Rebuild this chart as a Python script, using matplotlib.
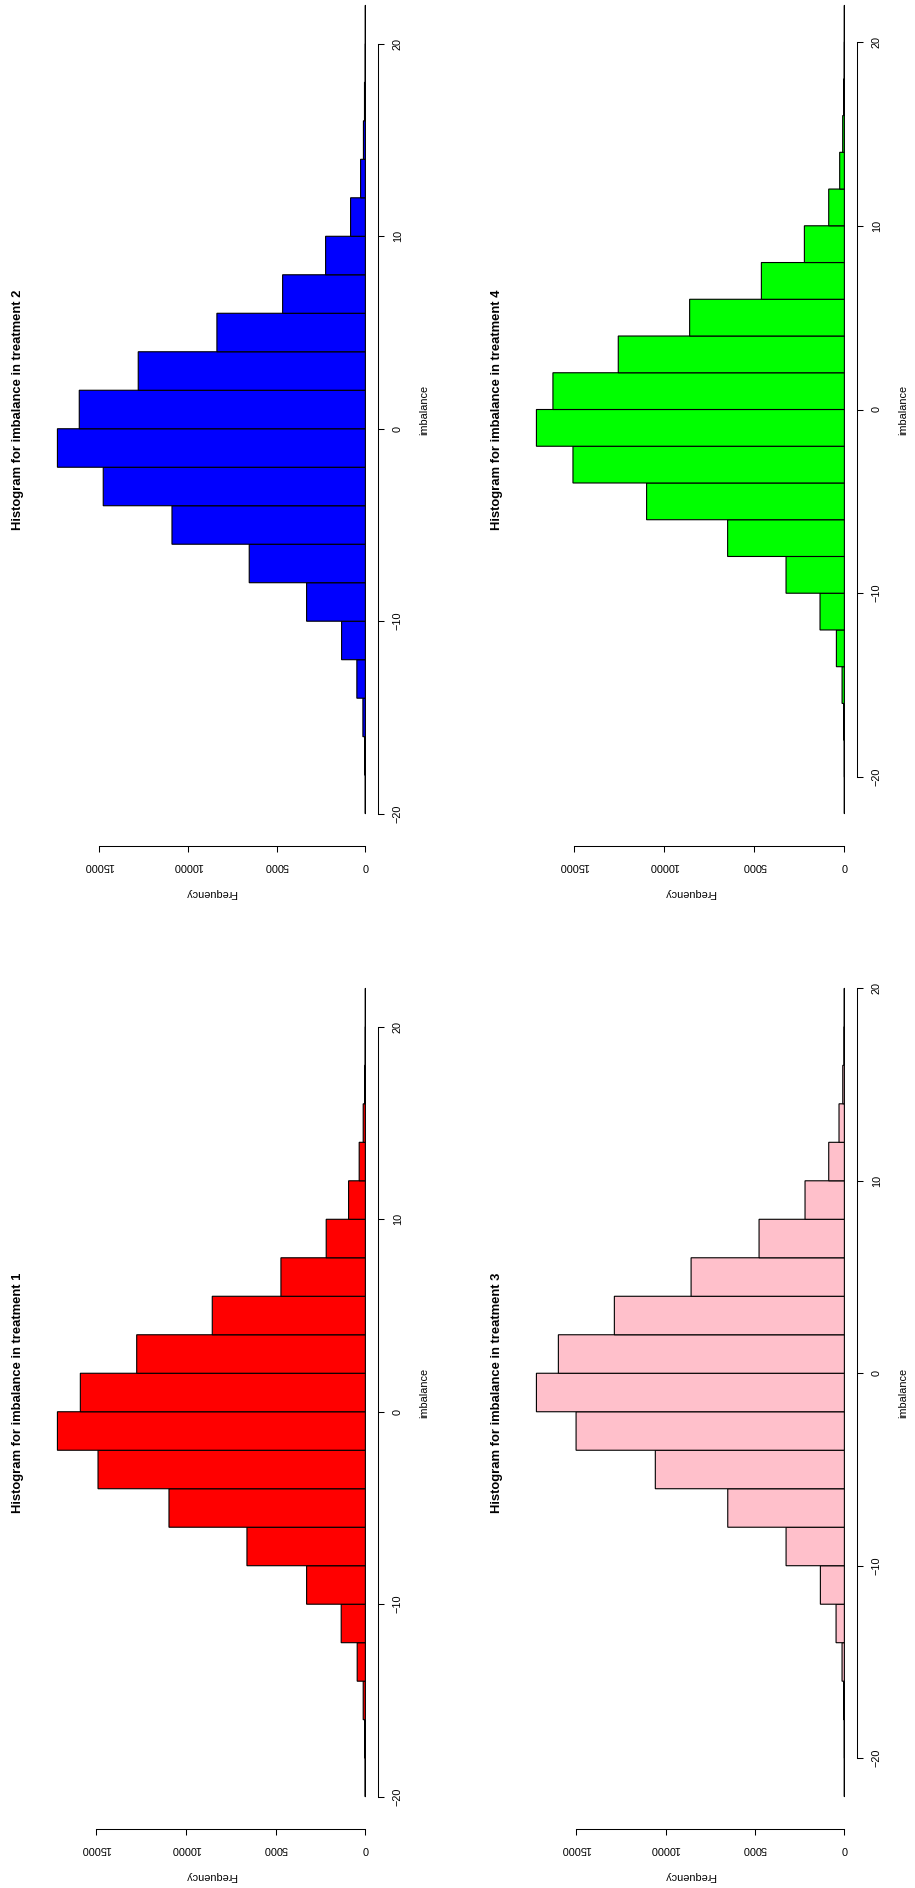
import numpy as np
import matplotlib
matplotlib.use("Agg")
import matplotlib.pyplot as plt
from matplotlib.transforms import offset_copy

plt.rcParams['font.family'] = ['Liberation Sans', 'DejaVu Sans']
# keep near-empty bins visible as thin outlines
plt.rcParams['path.simplify'] = False

# ---- data: imbalance histograms (bin edges and counts per treatment) ----
breaks_t1 = list(range(-20, 23, 2))
counts_t1 = [15, 40, 122, 456, 1347, 3273, 6595, 10937, 14889, 17150,
             15874, 12735, 8527, 4703, 2182, 935, 345, 122, 45, 12, 2]

breaks_t2 = list(range(-20, 23, 2))
counts_t2 = [8, 40, 140, 480, 1340, 3310, 6540, 10890, 14760, 17340,
             16110, 12790, 8360, 4660, 2240, 833, 270, 110, 50, 12, 3]

breaks_t3 = list(range(-22, 21, 2))
counts_t3 = [3, 10, 40, 130, 465, 1342, 3260, 6520, 10570, 15000, 17217,
             15990, 12860, 8570, 4770, 2200, 875, 300, 90, 25, 8]

breaks_t4 = list(range(-22, 23, 2))
counts_t4 = [2, 10, 45, 128, 443, 1350, 3233, 6470, 10960, 15040, 17065,
             16150, 12530, 8575, 4600, 2217, 868, 260, 94, 40, 10, 2]

titles = ["Histogram for imbalance in treatment 1",
          "Histogram for imbalance in treatment 2",
          "Histogram for imbalance in treatment 3",
          "Histogram for imbalance in treatment 4"]
fills = ["#FF0000", "#0000FF", "#FFC0CB", "#00FF00"]

imb_ticks = [-20, -10, 0, 10, 20]
freq_ticks = [0, 5000, 10000, 15000]

# ---- figure geometry (pixels) ----
W, H, DPI = 915, 1888, 100
PW, PH = 332.6, 873.0            # plot region size
COL_X = [45.1, 524.1]            # left edge of plot region per column
ROW_YB = [846.0, 1829.0]         # bottom edge (from top of image) per row
BASE = 7.8                       # base font size (pt)

fig = plt.figure(figsize=(W / DPI, H / DPI), dpi=DPI)
fig.patch.set_facecolor("white")

# (column, row) of each treatment panel
slots = [(0, 1), (0, 0), (1, 1), (1, 0)]
data = [(breaks_t1, counts_t1), (breaks_t2, counts_t2),
        (breaks_t3, counts_t3), (breaks_t4, counts_t4)]

px = 72.0 / DPI  # points per pixel

for (col, row), (brk, cnt), title, fill in zip(slots, data, titles, fills):
    x0, yb = COL_X[col], ROW_YB[row]
    ax = fig.add_axes([x0 / W, 1 - yb / H, PW / W, PH / H])
    ax.set_facecolor("none")

    edges = np.asarray(brk, dtype=float)
    counts = np.asarray(cnt, dtype=float)
    centers = (edges[:-1] + edges[1:]) / 2
    bars = ax.barh(centers, counts, height=np.diff(edges), left=0,
                   color=fill, edgecolor="black", linewidth=0.8)
    for b in bars:
        b.set_snap(False)

    m = counts.max()
    ax.set_xlim(1.04 * m, -0.04 * m)
    lo, hi = edges[0], edges[-1]
    r = hi - lo
    ax.set_ylim(lo - 0.04 * r, hi + 0.04 * r)

    for s in ("top", "left"):
        ax.spines[s].set_visible(False)
    ax.spines["right"].set_bounds(imb_ticks[0], imb_ticks[-1])
    ax.spines["bottom"].set_bounds(freq_ticks[0], freq_ticks[-1])
    for s in ("right", "bottom"):
        ax.spines[s].set_linewidth(0.75)

    ax.yaxis.tick_right()
    ax.set_yticks(imb_ticks)
    ax.set_yticklabels([str(v).replace("-", "\u2212") for v in imb_ticks])
    ax.set_xticks(freq_ticks)
    ax.set_xticklabels([str(v) for v in freq_ticks])
    ax.tick_params(axis="both", direction="out", length=6 * px, width=0.75,
                   labelsize=BASE, pad=14 * px)
    for lab in ax.get_yticklabels():
        lab.set_rotation(90)
        lab.set_ha("center")
        lab.set_va("center")
    for lab in ax.get_xticklabels():
        lab.set_rotation(180)
        lab.set_ha("center")
        lab.set_va("center")

    # axis titles and main title
    ax.text(0.5, 0, "Frequency", rotation=180, ha="center", va="center",
            fontsize=BASE,
            transform=offset_copy(ax.transAxes, fig=fig, x=0, y=-47, units="dots"))
    ax.text(1, 0.5, "imbalance", rotation=90, ha="center", va="center",
            fontsize=BASE,
            transform=offset_copy(ax.transAxes, fig=fig, x=47, y=0, units="dots"))
    ax.text(0, 0.5, title, rotation=90, ha="center", va="center",
            fontsize=BASE * 1.2, fontweight="bold",
            transform=offset_copy(ax.transAxes, fig=fig, x=-26.8, y=0, units="dots"))

fig.savefig("out.png", dpi=DPI)
